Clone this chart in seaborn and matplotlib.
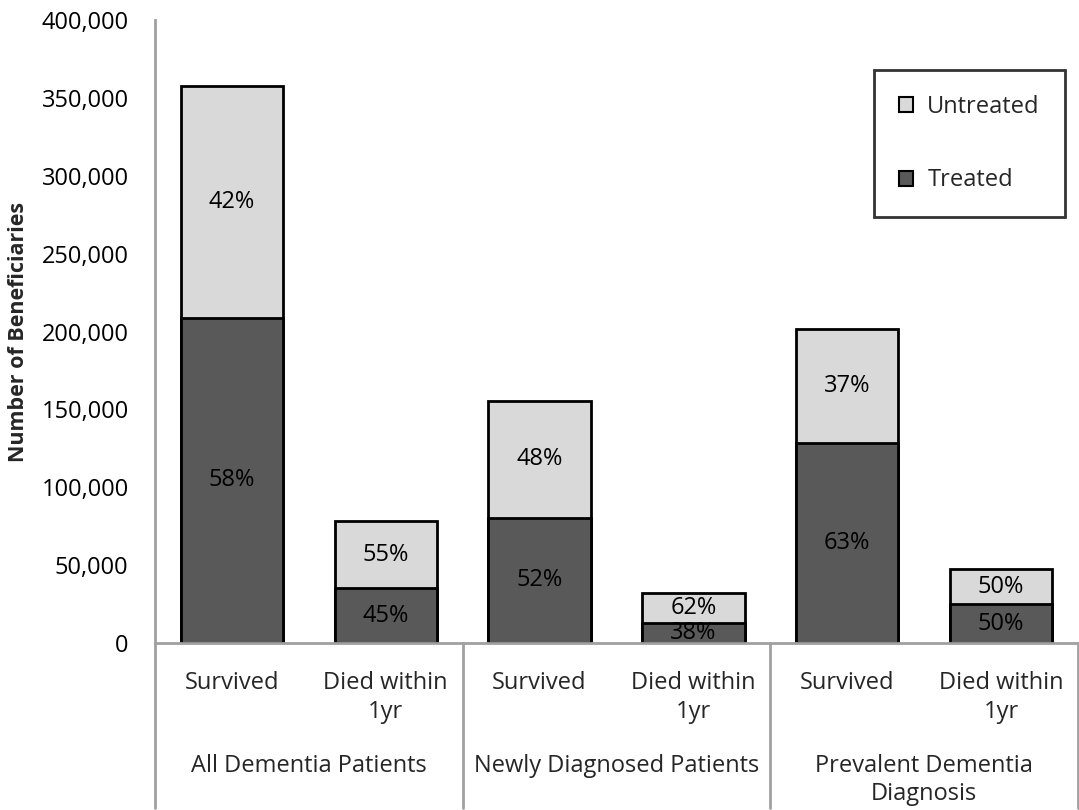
import matplotlib
matplotlib.use("Agg")
import matplotlib.pyplot as plt
import seaborn as sns
import pandas as pd
from matplotlib.patches import Patch
from matplotlib.ticker import FuncFormatter

groups = ["All Dementia Patients", "Newly Diagnosed Patients", "Prevalent Dementia\nDiagnosis"]
outcomes = ["Survived", "Died within\n1yr"] * 3
totals = [357600, 78300, 155400, 32100, 201600, 47500]
treated = [208700, 35300, 80300, 12800, 128400, 25000]
pct_treated = ["58%", "45%", "52%", "38%", "63%", "50%"]
pct_untreated = ["42%", "55%", "48%", "62%", "37%", "50%"]
yticks = [0, 50000, 100000, 150000, 200000, 250000, 300000, 350000, 400000]

sns.set_theme(style="white")
plt.rcParams['font.family'] = ['Open Sans', 'DejaVu Sans']

light = "#d9d9d9"
dark = "#595959"

df = pd.DataFrame({"pos": [str(i) for i in range(6)], "total": totals, "treated": treated})

fig = plt.figure(figsize=(10.79, 8.10), dpi=100)
ax = fig.add_axes([155/1079, 1-643/810, 1-155/1079 - 0.001, (643-20)/810])

sns.barplot(data=df, x="pos", y="total", color=light, edgecolor="black", linewidth=2,
            width=0.665, saturation=1, ax=ax)
sns.barplot(data=df, x="pos", y="treated", color=dark, edgecolor="black", linewidth=2,
            width=0.665, saturation=1, ax=ax)

ax.set_xlim(-0.5, 5.5)
ax.set_ylim(0, 400000)
ax.set_yticks(yticks)
ax.yaxis.set_major_formatter(FuncFormatter(lambda v, p: f"{int(v):,}"))
ax.tick_params(axis="y", labelsize=17, length=0, pad=19, colors="black")
ax.set_xticks([])
ax.set_xlabel("")
ax.set_ylabel("Number of Beneficiaries", fontsize=15.5, fontweight="bold")
ax.yaxis.set_label_coords((29 - 155) / 924, 0.5)

for s in ["top", "right"]:
    ax.spines[s].set_visible(False)
for s in ["left", "bottom"]:
    ax.spines[s].set_color("#a0a0a0")
    ax.spines[s].set_linewidth(2)

for i in range(6):
    t = treated[i]
    tot = totals[i]
    ax.text(i, t/2, pct_treated[i], ha="center", va="center", fontsize=17, color="black")
    ax.text(i, t + (tot - t)/2, pct_untreated[i], ha="center", va="center", fontsize=17, color="black")

trans = ax.get_xaxis_transform()
for i, lab in enumerate(outcomes):
    ax.text(i, -0.045, lab, transform=trans, ha="center", va="top", fontsize=17, linespacing=1.25)
for g, lab in enumerate(groups):
    ax.text(2*g + 0.5, -0.178, lab, transform=trans, ha="center", va="top", fontsize=17, linespacing=1.25)
for xb in [-0.5, 1.5, 3.5, 5.5]:
    ax.plot([xb, xb], [0, -0.265], transform=trans, color="#a0a0a0", lw=2, clip_on=False)

handles = [Patch(facecolor=light, edgecolor="black", linewidth=1.5, label="Untreated"),
           Patch(facecolor=dark, edgecolor="black", linewidth=1.5, label="Treated")]
leg = ax.legend(handles=handles, loc="upper left", bbox_to_anchor=((875-155)/924, 1-(70-20)/623),
                fontsize=17, frameon=True, fancybox=False, edgecolor="black",
                handlelength=0.6, handleheight=0.6, labelspacing=2.1, borderpad=1.05,
                handletextpad=0.6, borderaxespad=0)
leg.get_frame().set_linewidth(2)

fig.savefig("out.png", dpi=100)
